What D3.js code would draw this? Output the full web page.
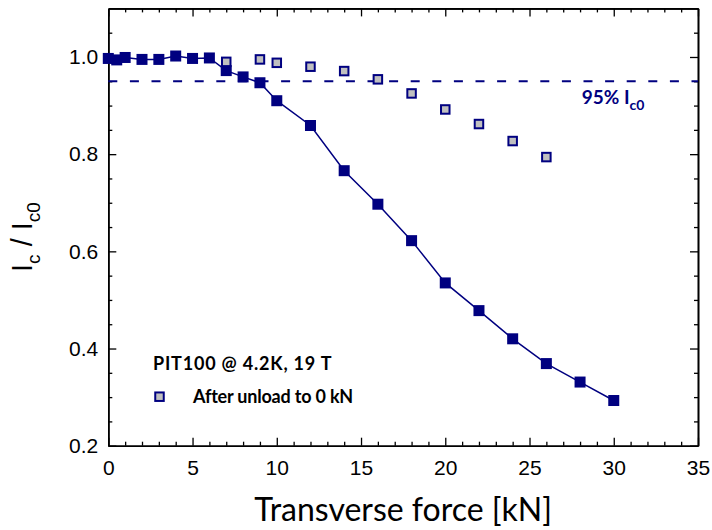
<!DOCTYPE html>
<html>
<head>
<meta charset="utf-8">
<script src="https://cdn.jsdelivr.net/npm/d3@7"></script>
<style>
  body { margin: 0; background: #fff; }
  svg { display: block; }
</style>
</head>
<body>
<svg id="chart"></svg>
<script>
// loaded sample, Ic/Ic0 vs transverse force
var force = [0, 0.5, 1, 2, 3, 4, 5, 6, 7, 8, 9, 10, 12, 14, 16, 18, 20, 22, 24, 26, 28, 30]
var icRatio = [0.997, 0.994, 0.999, 0.995, 0.995, 1.002, 0.997, 0.998, 0.972, 0.959, 0.947, 0.910,
               0.859, 0.766, 0.697, 0.622, 0.535, 0.478, 0.420, 0.369, 0.331, 0.293]

// after unloading to 0 kN
var unloadForce = [7, 9, 10, 12, 14, 16, 18, 20, 22, 24, 26]
var unloadRatio = [0.990, 0.995, 0.988, 0.980, 0.971, 0.954, 0.925, 0.892, 0.862, 0.827, 0.794]

var xTicks = [0, 5, 10, 15, 20, 25, 30, 35]
var yTicks = [0.2, 0.4, 0.6, 0.8, 1.0]
var limitLevel = 0.95

var screen = {width: 712, height: 530}
var margin = {top: 8.4, right: 14, bottom: 84.3, left: 108.3}
var w = screen.width - margin.left - margin.right
var h = screen.height - margin.top - margin.bottom
var navy = "#000080"

var svg = d3.select("#chart")
  .attr("width", screen.width)
  .attr("height", screen.height)

var g = svg.append("g")
  .attr("transform", "translate(" + margin.left + "," + margin.top + ")")

var x = d3.scaleLinear().domain([0, 35]).range([0, w])
var y = d3.scaleLinear().domain([0.2, 1.1]).range([h, 0])

var xMinor = d3.range(0, 36, 1).filter(function(v){ return v % 5 != 0 })
var yMinor = d3.range(0.25, 1.1, 0.05).filter(function(v){ return Math.abs(v * 5 - Math.round(v * 5)) > 0.01 })

var tickFont = "'Liberation Sans', Arial, sans-serif"

function styleAxis(sel){
  sel.selectAll("path").attr("stroke", "#000").attr("stroke-width", 1.6)
  sel.selectAll("line").attr("stroke", "#000").attr("stroke-width", 1.3)
  sel.selectAll("text").attr("font-family", tickFont).attr("font-size", 21).attr("fill", "#000")
}

// bottom
g.append("g").attr("transform", "translate(0," + h + ")")
  .call(d3.axisBottom(x).tickValues(xTicks).tickFormat(d3.format("d")).tickSize(-8).tickSizeOuter(0).tickPadding(14))
  .call(styleAxis)
g.append("g").attr("transform", "translate(0," + h + ")")
  .call(d3.axisBottom(x).tickValues(xMinor).tickFormat("").tickSize(-4).tickSizeOuter(0))
  .call(styleAxis)
// top
g.append("g")
  .call(d3.axisTop(x).tickValues(xTicks).tickFormat("").tickSize(-8).tickSizeOuter(0))
  .call(styleAxis)
g.append("g")
  .call(d3.axisTop(x).tickValues(xMinor).tickFormat("").tickSize(-4).tickSizeOuter(0))
  .call(styleAxis)
// left
g.append("g")
  .call(d3.axisLeft(y).tickValues(yTicks).tickFormat(d3.format(".1f")).tickSize(-8).tickSizeOuter(0).tickPadding(10))
  .call(styleAxis)
g.append("g")
  .call(d3.axisLeft(y).tickValues(yMinor).tickFormat("").tickSize(-4).tickSizeOuter(0))
  .call(styleAxis)
// right
g.append("g").attr("transform", "translate(" + w + ",0)")
  .call(d3.axisRight(y).tickValues(yTicks).tickFormat("").tickSize(-8).tickSizeOuter(0))
  .call(styleAxis)
g.append("g").attr("transform", "translate(" + w + ",0)")
  .call(d3.axisRight(y).tickValues(yMinor).tickFormat("").tickSize(-4).tickSizeOuter(0))
  .call(styleAxis)

// 95% line
g.append("line")
  .attr("x1", 0).attr("x2", w)
  .attr("y1", y(limitLevel)).attr("y2", y(limitLevel))
  .attr("stroke", navy).attr("stroke-width", 2)
  .attr("stroke-dasharray", "9,12.6")

var lbl = g.append("text")
  .attr("x", x(28.1)).attr("y", y(limitLevel) + 23)
  .attr("font-family", "Lato, 'Open Sans', sans-serif")
  .attr("font-weight", "bold").attr("font-size", 19).attr("fill", navy)
lbl.append("tspan").text("95% I")
lbl.append("tspan").attr("font-size", 14).attr("dy", 6).text("c0")

// loaded curve
var lineGen = d3.line()
  .x(function(d, i){ return x(force[i]) })
  .y(function(d){ return y(d) })

g.append("path")
  .datum(icRatio)
  .attr("d", lineGen)
  .attr("fill", "none")
  .attr("stroke", navy)
  .attr("stroke-width", 1.5)

var s1 = 11
g.selectAll(".loaded")
  .data(icRatio)
  .enter()
  .append("rect")
  .attr("class", "loaded")
  .attr("x", function(d, i){ return x(force[i]) - s1 / 2 })
  .attr("y", function(d){ return y(d) - s1 / 2 })
  .attr("width", s1).attr("height", s1)
  .attr("fill", navy)

var s2 = 8.5
g.selectAll(".unload")
  .data(unloadRatio)
  .enter()
  .append("rect")
  .attr("class", "unload")
  .attr("x", function(d, i){ return x(unloadForce[i]) - s2 / 2 })
  .attr("y", function(d){ return y(d) - s2 / 2 })
  .attr("width", s2).attr("height", s2)
  .attr("fill", "#c0c0c0")
  .attr("stroke", navy)
  .attr("stroke-width", 2)

// legend
var legFont = "Lato, 'Open Sans', sans-serif"
svg.append("text")
  .attr("x", 153).attr("y", 370)
  .attr("font-family", legFont).attr("font-weight", "bold").attr("font-size", 18)
  .attr("letter-spacing", 0.8)
  .text("PIT100 @ 4.2K, 19 T")
svg.append("rect")
  .attr("x", 159.5 - s2 / 2).attr("y", 396.7 - s2 / 2)
  .attr("width", s2).attr("height", s2)
  .attr("fill", "#c0c0c0").attr("stroke", navy).attr("stroke-width", 2)
svg.append("text")
  .attr("x", 193).attr("y", 403)
  .attr("font-family", legFont).attr("font-weight", "bold").attr("font-size", 18)
  .attr("letter-spacing", -0.2)
  .text("After unload to 0 kN")

// axis titles
svg.append("text")
  .attr("x", margin.left + w / 2).attr("y", 521)
  .attr("text-anchor", "middle")
  .attr("font-family", legFont).attr("font-size", 32)
  .text("Transverse force [kN]")

var yt = svg.append("text")
  .attr("transform", "translate(32,237) rotate(-90)")
  .attr("text-anchor", "middle")
  .attr("font-family", tickFont).attr("font-size", 29)
yt.append("tspan").text("I")
yt.append("tspan").attr("font-size", 19).attr("dy", 8).text("c")
yt.append("tspan").attr("dy", -8).text(" / I")
yt.append("tspan").attr("font-size", 19).attr("dy", 8).text("c0")
</script>
</body>
</html>
